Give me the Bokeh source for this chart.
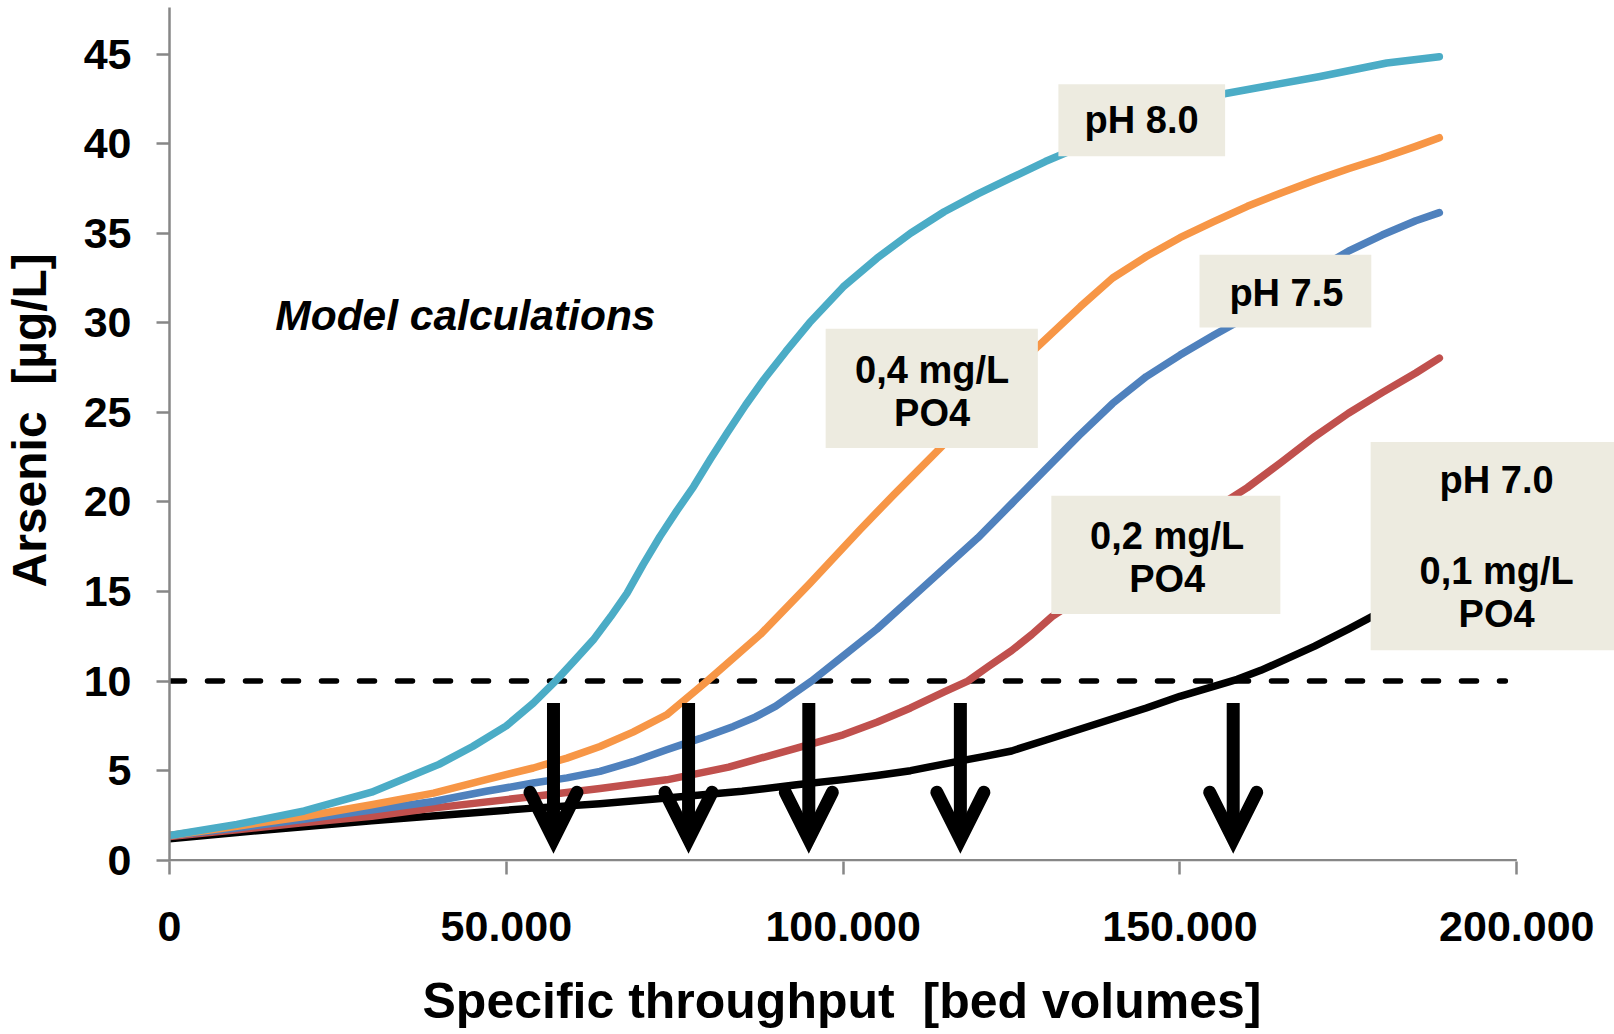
from bokeh.plotting import figure
from bokeh.models import (FixedTicker, Range1d, Arrow, OpenHead, Label, Title, LinearAxis,
                          ColumnDataSource)
from bokeh.core.properties import value
from bokeh.embed import file_html
from bokeh.resources import INLINE

# ---------------- data ----------------
x_ticks = [0, 50000, 100000, 150000, 200000]
x_tick_labels = ["0", "50.000", "100.000", "150.000", "200.000"]
y_ticks = [0, 5, 10, 15, 20, 25, 30, 35, 40, 45]

ph80_x = [0, 10000, 20000, 30000, 40000, 45000, 50000, 54000, 57300, 60000, 62900, 65500, 67900,
          70300, 72800, 75300, 77800, 80300, 82750, 85500, 88200, 91500, 95000, 100000, 105000,
          110000, 115000, 120000, 125000, 130000, 135000, 145000, 156800, 170800, 180700, 188500]
ph80_y = [1.38, 2.0, 2.75, 3.8, 5.35, 6.35, 7.5, 8.77, 10.0, 11.1, 12.3, 13.6, 14.9,
          16.5, 18.07, 19.5, 20.86, 22.4, 23.84, 25.4, 26.82, 28.4, 30.0, 32.0, 33.6,
          35.0, 36.2, 37.2, 38.1, 39.0, 39.8, 41.4, 42.8, 43.75, 44.5, 44.85]

po4_04_x = [0, 10000, 20000, 30000, 39200, 47000, 54000, 59000, 63900, 68800, 73800, 79800, 87700,
            95100, 102500, 107500, 114400, 120000, 125000, 128900, 135200, 140000, 145000, 150000,
            155000, 160000, 165000, 170000, 175000, 180000, 185000, 188500]
po4_04_y = [1.38, 1.9, 2.44, 3.1, 3.75, 4.5, 5.15, 5.7, 6.35, 7.15, 8.12, 10.0, 12.6,
            15.47, 18.45, 20.4, 23.0, 25.2, 27.2, 28.68, 30.9, 32.5, 33.7, 34.75,
            35.65, 36.5, 37.25, 37.95, 38.6, 39.2, 39.85, 40.33]

ph75_x = [0, 10000, 19400, 30000, 39200, 47000, 54000, 59000, 63900, 68800, 73800, 78800, 83700,
          87000, 90000, 95300, 100000, 105000, 110000, 115000, 120000, 125000, 130000, 135000,
          140000, 145000, 150000, 155000, 160000, 165000, 170000, 175000, 180000, 185000, 188500]
ph75_y = [1.38, 1.8, 2.26, 2.8, 3.28, 3.85, 4.31, 4.6, 4.96, 5.5, 6.17, 6.8, 7.47,
          8.0, 8.6, 10.0, 11.4, 12.9, 14.6, 16.3, 18.0, 19.9, 21.8, 23.7,
          25.5, 27.0, 28.2, 29.3, 30.35, 31.6, 32.9, 34.0, 34.9, 35.7, 36.15]

po4_02_x = [0, 10000, 19400, 30000, 40000, 54000, 63900, 73800, 83000, 93100, 100000, 105000,
            110000, 115000, 118500, 121500, 125000, 128000, 131000, 135000, 140000, 145000,
            150000, 155000, 160000, 165000, 170000, 175000, 180000, 185000, 188500]
po4_02_y = [1.32, 1.7, 2.08, 2.45, 2.95, 3.56, 4.0, 4.49, 5.2, 6.26, 7.0, 7.7,
            8.5, 9.4, 10.0, 10.8, 11.7, 12.6, 13.6, 14.6, 15.9, 17.1,
            18.3, 19.6, 20.8, 22.2, 23.65, 24.95, 26.1, 27.2, 28.03]

ph70_x = [0, 10000, 19400, 30000, 40000, 54000, 63900, 73800, 85000, 93100, 100000, 105000,
          110000, 117400, 121000, 125000, 130000, 135000, 140000, 145000, 150000, 155000,
          158500, 162000, 165000, 170000, 175000, 178500, 183000, 188500]
ph70_y = [1.2, 1.55, 1.85, 2.2, 2.5, 2.91, 3.15, 3.47, 3.85, 4.21, 4.5, 4.73,
          5.0, 5.55, 5.8, 6.1, 6.7, 7.3, 7.9, 8.5, 9.15, 9.7,
          10.1, 10.6, 11.1, 11.95, 12.9, 13.6, 14.5, 15.6]

limit_value = 10
limit_end = 198300
breakthrough_x = [57000, 77050, 94900, 117400, 157900]

series_colors = ["#4BACC6", "#F79646", "#4F81BD", "#C0504D", "#000000"]

# ---------------- figure ----------------
FONT = value("Liberation Sans")
GRAY = "#878787"

p = figure(width=1614, height=1034, output_backend="svg", toolbar_location=None,
           x_range=Range1d(0, 214500), y_range=Range1d(-0.07, 47.6),
           min_border_left=169, min_border_right=0, min_border_top=7, min_border_bottom=173)
p.outline_line_color = None
p.xgrid.visible = False
p.ygrid.visible = False
p.background_fill_color = "white"
p.border_fill_color = "white"

for ax in (p.xaxis[0], p.yaxis[0]):
    ax.major_tick_out = 13
    ax.major_tick_in = 0
    ax.minor_tick_out = 0
    ax.minor_tick_in = 0
    ax.major_tick_line_color = GRAY
    ax.major_tick_line_width = 2.5
    ax.major_label_text_font = "Liberation Sans"
    ax.major_label_text_font_style = "bold"
    ax.major_label_text_font_size = "43px"
    ax.major_label_text_color = "black"

p.xaxis.ticker = FixedTicker(ticks=x_ticks)
p.xaxis.major_label_overrides = {t: l for t, l in zip(x_ticks, x_tick_labels)}
p.xaxis.axis_line_color = None
p.xaxis.major_label_standoff = 37

p.yaxis.ticker = FixedTicker(ticks=y_ticks)
p.yaxis.axis_line_color = GRAY
p.yaxis.axis_line_width = 2.5
p.yaxis.major_label_standoff = 25


def spacer(size):
    # an empty axis used only to reserve room between the tick labels and the title
    return LinearAxis(ticker=FixedTicker(ticks=[0], minor_ticks=[]), axis_line_color=None,
                      major_tick_out=size, major_tick_in=0, minor_tick_out=0, minor_tick_in=0,
                      major_tick_line_color=None, minor_tick_line_color=None,
                      major_label_overrides={0: ""}, major_label_text_font_size="1px",
                      major_label_standoff=0)


# x axis line only up to last tick
p.segment(x0=[x_ticks[0]], y0=[y_ticks[0]], x1=[x_ticks[-1]], y1=[y_ticks[0]],
          line_color=GRAY, line_width=2.5)

# threshold
p.line([0, limit_end], [limit_value, limit_value], line_color="black", line_width=5.5,
       line_dash="15 23", line_cap="round")

# curves
for xs, ys, c in [(ph70_x, ph70_y, series_colors[4]), (po4_02_x, po4_02_y, series_colors[3]),
                  (ph75_x, ph75_y, series_colors[2]), (po4_04_x, po4_04_y, series_colors[1]),
                  (ph80_x, ph80_y, series_colors[0])]:
    p.line(xs, ys, line_color=c, line_width=7.5, line_cap="round", line_join="round")

# label boxes
BOX = "#EDEBE0"
box_left = [131950, 97400, 152900, 130900, 178300]
box_right = [156700, 128900, 178400, 164900, 216000]
box_top = [43.32, 29.67, 33.8, 20.35, 23.34]
box_bottom = [39.3, 23.01, 29.74, 13.74, 11.72]
p.quad(left=box_left, right=box_right, top=box_top, bottom=box_bottom,
       fill_color=BOX, line_color=None)

label_text = ["pH 8.0", "0,4 mg/L", "PO4", "pH 7.5", "0,2 mg/L", "PO4", "pH 7.0", "0,1 mg/L", "PO4"]
label_x = [144300, 113200, 113200, 165800, 148100, 148100, 197000, 197000, 197000]
label_y = [41.3, 27.35, 24.96, 31.66, 18.1, 15.69, 21.2, 16.15, 13.74]
p.text(x=label_x, y=label_y, text=label_text, text_font=FONT, text_font_style="bold",
       text_font_size="38px", text_align="center", text_baseline="middle", text_color="black")

# arrows
arrow_src = ColumnDataSource(dict(x0=breakthrough_x, y0=[8.78] * len(breakthrough_x),
                                  x1=breakthrough_x, y1=[1.17] * len(breakthrough_x)))
p.add_layout(Arrow(source=arrow_src, x_start="x0", y_start="y0", x_end="x1", y_end="y1",
                   line_color="black", line_width=13,
                   end=OpenHead(size=47, line_width=13, line_color="black",
                                line_join="miter", line_cap="round")))

# free text
p.add_layout(Label(x=15700, y=30.4, text="Model calculations", text_font="Liberation Sans",
                   text_font_style="bold italic", text_font_size="42.5px", text_align="left",
                   text_baseline="middle", text_color="black"))

# axis titles (spacer axes push them outward)
p.add_layout(spacer(27), "below")
p.add_layout(Title(text="Specific throughput\u00a0 [bed volumes]", align="left", offset=253,
                   text_font="Liberation Sans", text_font_style="bold", text_font_size="50px",
                   text_color="black", standoff=0), "below")
p.add_layout(spacer(25), "left")
p.add_layout(Title(text="Arsenic\u00a0 [µg/L]", align="left", offset=274,
                   text_font="Liberation Sans", text_font_style="bold", text_font_size="48px",
                   text_color="black", standoff=0), "left")

open("out.html", "w").write(file_html(p, INLINE))
